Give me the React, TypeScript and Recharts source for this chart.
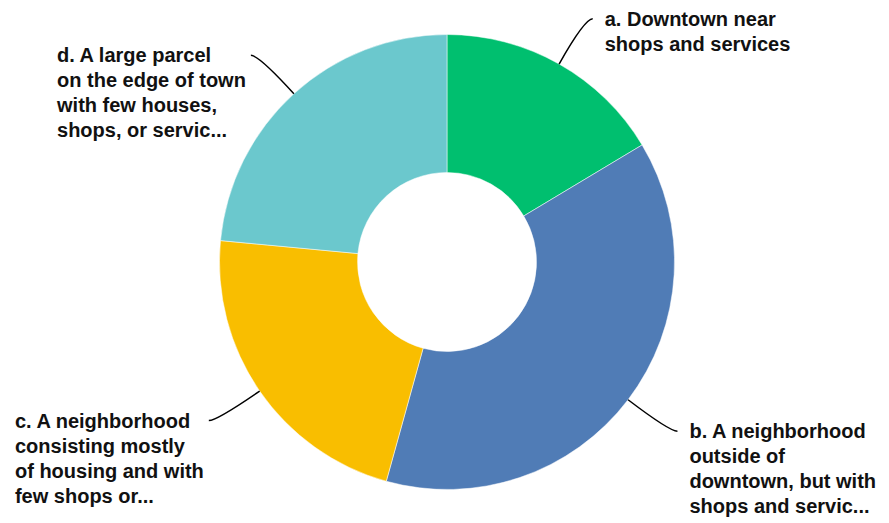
import React from 'react'
import { PieChart, Pie, Cell } from 'recharts'

// answer share (%)
const CATEGORIES = ['a', 'b', 'c', 'd']
const SHARES = [16.4, 37.9, 22.2, 23.5]
const COLORS = ['#00BF6F', '#507CB6', '#F9BE00', '#6BC8CD']
const LABEL_LINES = [
  ['a. Downtown near', 'shops and services'],
  ['b. A neighborhood', 'outside of', 'downtown, but with', 'shops and servic...'],
  ['c. A neighborhood', 'consisting mostly', 'of housing and with', 'few shops or...'],
  ['d. A large parcel', 'on the edge of town', 'with few houses,', 'shops, or servic...'],
]

const data = CATEGORIES.map((c, i) => ({ name: c, value: SHARES[i] }))

const RADIAN = Math.PI / 180
const FONT = 'bold 20px "Liberation Sans", Arial, sans-serif'
const LINE_H = 25

let ctx: CanvasRenderingContext2D | null = null
function textWidth(s: string) {
  if (!ctx) ctx = document.createElement('canvas').getContext('2d')
  if (!ctx) return s.length * 10
  ctx.font = FONT
  return ctx.measureText(s).width
}

function renderLabel(props: any) {
  const { cx, cy, midAngle, outerRadius, index } = props
  const cos = Math.cos(-midAngle * RADIAN)
  const sin = Math.sin(-midAngle * RADIAN)
  const sx = cx + outerRadius * cos
  const sy = cy + outerRadius * sin
  const r = outerRadius + 52
  const ex = cx + r * cos
  const ey = cy + r * sin
  const right = cos >= 0
  const tx = ex + (right ? 8 : -8)
  const lines = LABEL_LINES[index]
  const blockW = Math.max(...lines.map(textWidth))
  const textX = right ? tx + 12 : tx - 5 - blockW
  return (
    <g key={'lbl-' + index}>
      <path d={`M${sx},${sy} Q${ex},${ey} ${tx},${ey}`} stroke="#000" strokeWidth={1.5} fill="none" />
      <text x={textX} y={ey + 7} fill="#111" style={{ font: FONT }}>
        {lines.map((l, i) => (
          <tspan key={i} x={textX} dy={i === 0 ? 0 : LINE_H}>
            {l}
          </tspan>
        ))}
      </text>
    </g>
  )
}

export default function App() {
  return (
    <div style={{ position: 'absolute', left: 0, top: 0, background: '#fff' }}>
      <PieChart width={889} height={523} margin={{ top: 0, right: 0, bottom: 0, left: 0 }}>
        <Pie
          data={data}
          dataKey="value"
          nameKey="name"
          cx={447}
          cy={262}
          innerRadius={89.5}
          outerRadius={227.5}
          startAngle={90}
          endAngle={-270}
          stroke="#fff"
          strokeWidth={0.5}
          label={renderLabel}
          labelLine={false}
          isAnimationActive={false}
        >
          {data.map((d, i) => (
            <Cell key={d.name} fill={COLORS[i]} />
          ))}
        </Pie>
      </PieChart>
    </div>
  )
}
